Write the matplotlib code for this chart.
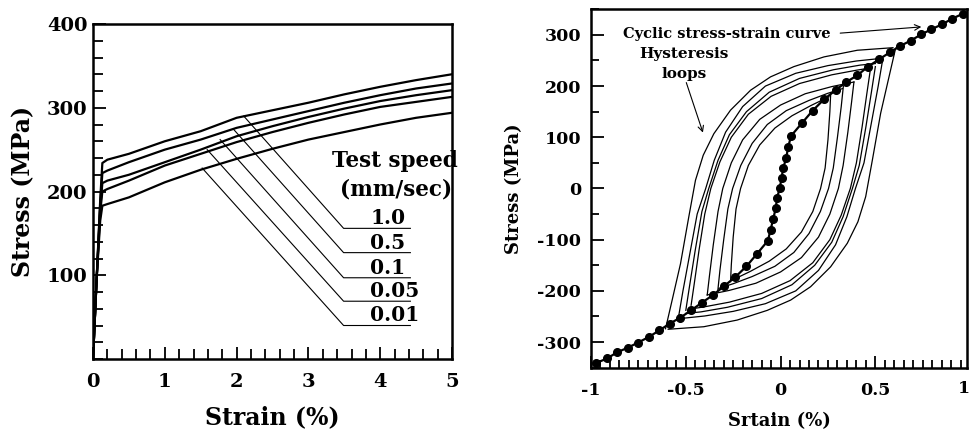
import numpy as np
import matplotlib
matplotlib.use("Agg")
import matplotlib.pyplot as plt
from matplotlib.ticker import MultipleLocator

plt.rcParams['font.family'] = 'DejaVu Serif'
plt.rcParams['font.weight'] = 'bold'
plt.rcParams['axes.labelweight'] = 'bold'
plt.rcParams['axes.unicode_minus'] = False

# ---- left panel: tensile curves at different test speeds ----
strain = [0, 0.05, 0.1, 0.13, 0.2, 0.5, 1.0, 1.5, 2.0, 2.5, 3.0, 3.5, 4.0, 4.5, 5.0]
speeds = ['1.0', '0.5', '0.1', '0.05', '0.01']
stress_10 = [0, 95, 190, 234, 238, 245, 260, 272, 288, 297, 306, 316, 325, 333, 340]
stress_05 = [0, 95, 185, 222, 225, 235, 250, 262, 276, 286, 296, 306, 315, 323, 329]
stress_01 = [0, 95, 180, 210, 213, 220, 235, 250, 266, 278, 289, 299, 308, 315, 321]
stress_005 = [0, 95, 175, 200, 203, 213, 231, 245, 259, 271, 282, 292, 301, 307, 313]
stress_001 = [0, 95, 165, 183, 185, 193, 211, 226, 239, 251, 262, 271, 280, 288, 294]
curves = [stress_10, stress_05, stress_01, stress_005, stress_001]

# leader lines: point on curve -> elbow -> end of underline
lead_start_x = [2.10, 1.96, 1.77, 1.59, 1.52]
lead_start_y = [290, 274, 262, 250, 228]
lead_y = [156, 127, 97, 69, 40]
lead_elbow_x = 3.49
lead_end_x = 4.42

# ---- right panel: cyclic curve and hysteresis loops ----
cyc_x = [-0.974, -0.915, -0.863, -0.806, -0.752, -0.695, -0.639, -0.585, -0.528,
         -0.472, -0.415, -0.356, -0.299, -0.239, -0.180, -0.123, -0.067, -0.053,
         -0.039, -0.026, -0.018, -0.005, 0.005, 0.014, 0.030, 0.040, 0.056, 0.111,
         0.169, 0.229, 0.290, 0.347, 0.405, 0.461, 0.519, 0.577, 0.630, 0.687,
         0.743, 0.796, 0.854, 0.907, 0.960]
cyc_y = [-341, -332, -320, -311, -301, -290, -277, -264, -252, -238, -223, -208,
         -191, -173, -152, -127, -102, -81, -60, -39, -18, 0, 20, 40, 60, 81, 103,
         127, 152, 174, 192, 208, 221, 238, 252, 266, 278, 289, 301, 311, 321, 332, 341]

# rising branch of each loop (falling branch mirrors it through the origin)
loop1_x = [-0.607, -0.572, -0.528, -0.484, -0.449, -0.408, -0.352, -0.264, -0.158, -0.053, 0.070, 0.229, 0.405, 0.593]
loop1_y = [-274, -218, -147, -55, 16, 65, 107, 153, 192, 218, 238, 257, 270, 275]
loop2_x = [-0.537, -0.515, -0.48, -0.44, -0.395, -0.35, -0.29, -0.2, -0.08, 0.08, 0.25, 0.4, 0.528]
loop2_y = [-248, -200, -130, -50, 0, 55, 110, 160, 200, 225, 240, 249, 254]
loop3_x = [-0.50, -0.48, -0.45, -0.415, -0.379, -0.33, -0.27, -0.18, -0.06, 0.1, 0.28, 0.42, 0.50]
loop3_y = [-238, -190, -120, -45, 0, 55, 105, 150, 188, 215, 232, 241, 244]
loop4_x = [-0.472, -0.455, -0.43, -0.40, -0.368, -0.32, -0.26, -0.17, -0.05, 0.1, 0.27, 0.4, 0.467]
loop4_y = [-228, -185, -120, -50, 0, 52, 100, 145, 180, 205, 222, 231, 235]
loop5_x = [-0.387, -0.375, -0.355, -0.33, -0.305, -0.26, -0.2, -0.11, 0.0, 0.13, 0.27, 0.387]
loop5_y = [-208, -170, -110, -45, 0, 50, 95, 135, 163, 185, 199, 208]
loop6_x = [-0.331, -0.32, -0.30, -0.278, -0.253, -0.21, -0.15, -0.07, 0.03, 0.15, 0.25, 0.326]
loop6_y = [-199, -160, -100, -40, 0, 45, 88, 125, 152, 172, 186, 195]
loop7_x = [-0.264, -0.26, -0.25, -0.235, -0.211, -0.17, -0.11, -0.03, 0.06, 0.16, 0.255]
loop7_y = [-182, -150, -95, -40, 0, 45, 85, 118, 142, 162, 179]
loops = [(loop1_x, loop1_y), (loop2_x, loop2_y), (loop3_x, loop3_y), (loop4_x, loop4_y),
         (loop5_x, loop5_y), (loop6_x, loop6_y), (loop7_x, loop7_y)]

fig = plt.figure(figsize=(9.7, 4.34), dpi=100)

# ---------------- left ----------------
ax1 = fig.add_axes([0.0959, 0.1728, 0.3701, 0.7719])
for s in curves:
    ax1.plot(strain, s, color='black', lw=1.6)
for i in range(len(speeds)):
    ax1.plot([lead_start_x[i], lead_elbow_x, lead_end_x],
             [lead_start_y[i], lead_y[i], lead_y[i]], color='black', lw=0.8)
    ax1.text(3.86, lead_y[i] + 12, speeds[i], fontsize=14.5, ha='left', va='center')
ax1.text(4.21, 236, 'Test speed', fontsize=15.5, ha='center', va='center', clip_on=False)
ax1.text(4.22, 202, '(mm/sec)', fontsize=15.5, ha='center', va='center', clip_on=False)

ax1.set_xlim(0, 5)
ax1.set_ylim(0, 400)
ax1.xaxis.set_major_locator(MultipleLocator(1))
ax1.xaxis.set_minor_locator(MultipleLocator(0.2))
ax1.yaxis.set_major_locator(MultipleLocator(100))
ax1.yaxis.set_minor_locator(MultipleLocator(20))
ax1.set_yticks([100, 200, 300, 400])
ax1.tick_params(which='both', direction='in', top=False, right=False, width=1.3)
ax1.tick_params(which='major', length=9, labelsize=14)
ax1.tick_params(which='minor', length=7)
ax1.tick_params(axis='x', pad=10)
ax1.tick_params(axis='y', pad=4)
ax1.set_xlabel('Strain (%)', fontsize=17, labelpad=10)
ax1.set_ylabel('Stress (MPa)', fontsize=17, labelpad=8)
for sp in ax1.spines.values():
    sp.set_linewidth(1.8)

# ---------------- right ----------------
ax2 = fig.add_axes([0.6093, 0.1528, 0.3879, 0.8258])
for lx, ly in loops:
    ax2.plot(lx, ly, color='black', lw=0.9)
    ax2.plot([-v for v in lx], [-v for v in ly], color='black', lw=0.9)
ax2.plot(cyc_x, cyc_y, color='black', lw=1.6, marker='o', ms=5.5)

ax2.annotate('', xy=(0.757, 316), xytext=(0.30, 303),
             arrowprops=dict(arrowstyle='->', color='black', lw=0.8))
ax2.text(-0.282, 301, 'Cyclic stress-strain curve', fontsize=10.5, ha='center', va='center')
ax2.text(-0.507, 262, 'Hysteresis', fontsize=11, ha='center', va='center')
ax2.text(-0.51, 223, 'loops', fontsize=11, ha='center', va='center')
ax2.annotate('', xy=(-0.405, 104), xytext=(-0.502, 212),
             arrowprops=dict(arrowstyle='->', color='black', lw=0.8))

ax2.set_xlim(-1, 0.985)
ax2.set_ylim(-350, 350)
ax2.set_xticks([-1, -0.5, 0, 0.5])
ax2.set_xticklabels(['-1', '-0.5', '0', '0.5'])
ax2.xaxis.set_minor_locator(MultipleLocator(0.05))
ax2.set_yticks([-300, -200, -100, 0, 100, 200, 300])
ax2.yaxis.set_minor_locator(MultipleLocator(50))
ax2.tick_params(which='both', direction='in', top=False, right=False, width=1.3)
ax2.tick_params(which='major', length=9, labelsize=12.5)
ax2.tick_params(which='minor', length=6)
ax2.tick_params(axis='x', pad=10)
ax2.tick_params(axis='y', pad=7)
ax2.text(0.998, -0.035, '1', transform=ax2.get_xaxis_transform(), fontsize=12.5,
         ha='right', va='top', clip_on=False)
ax2.set_xlabel('Srtain (%)', fontsize=13, labelpad=10)
ax2.set_ylabel('Stress (MPa)', fontsize=13, labelpad=10)
for sp in ax2.spines.values():
    sp.set_linewidth(1.8)

fig.savefig('out.png', dpi=100)
